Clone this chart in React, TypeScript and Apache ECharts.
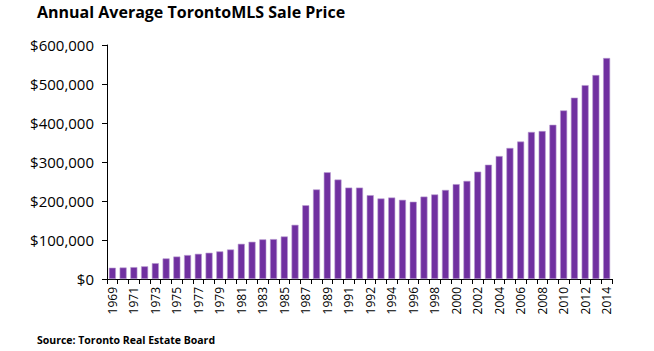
import React, { useEffect, useRef } from "react";
import * as echarts from "echarts";

const years: string[] = [
  "1969", "1970", "1971", "1972", "1973", "1974", "1975", "1976", "1977", "1978",
  "1979", "1980", "1981", "1982", "1983", "1984", "1985", "1986", "1987", "1988",
  "1989", "1990", "1991", "1991", "1992", "1993", "1994", "1995", "1996", "1997",
  "1998", "1999", "2000", "2001", "2002", "2003", "2004", "2005", "2006", "2007",
  "2008", "2009", "2010", "2011", "2012", "2013", "2014",
];

const avgPrice: number[] = [
  28929, 29492, 30426, 32513, 40605, 52806, 57581, 61389, 64559, 67333,
  70830, 75694, 90203, 95496, 101626, 102318, 109094, 138925, 189105, 229635,
  273698, 255020, 234313, 234313, 214971, 206490, 208921, 203028, 198150, 211307,
  216815, 228372, 243255, 251508, 275231, 293067, 315231, 335907, 352388, 377029,
  379347, 395460, 432264, 464989, 497073, 522951, 566611,
];

const yTicks = { min: 0, max: 600000, interval: 100000 };

const title = "Annual Average TorontoMLS Sale Price";
const source = "Source: Toronto Real Estate Board";

export default function App() {
  const ref = useRef<HTMLDivElement>(null);
  useEffect(() => {
    if (!ref.current) return;
    const chart = echarts.init(ref.current, null, { renderer: "svg" });
    const font = "'Open Sans', 'Liberation Sans', sans-serif";
    chart.setOption({
      animation: false,
      backgroundColor: "#ffffff",
      textStyle: { fontFamily: font },
      graphic: [
        {
          type: "text",
          left: 37,
          top: 4,
          style: {
            text: title,
            font: `bold 16px ${font}`,
            fill: "#000000",
          },
        },
        {
          type: "text",
          left: 37,
          top: 334,
          style: {
            text: source,
            font: `bold 10.5px ${font}`,
            fill: "#000000",
          },
        },
      ],
      grid: { left: 107, right: 42, top: 45, bottom: 72, containLabel: false },
      xAxis: {
        type: "category",
        data: years,
        boundaryGap: true,
        axisLine: { show: true, lineStyle: { color: "#000000", width: 1 } },
        axisTick: { show: true, alignWithLabel: false, interval: 0, length: 5, lineStyle: { color: "#000000" } },
        axisLabel: {
          interval: 1,
          rotate: 90,
          color: "#000000",
          fontSize: 12,
          fontFamily: font,
          margin: 8,
        },
      },
      yAxis: {
        type: "value",
        min: yTicks.min,
        max: yTicks.max,
        interval: yTicks.interval,
        splitLine: { show: false },
        axisLine: { show: true, lineStyle: { color: "#000000", width: 1 } },
        axisTick: { show: true, length: 5, lineStyle: { color: "#000000" } },
        axisLabel: {
          color: "#000000",
          fontSize: 15,
          fontFamily: font,
          margin: 13,
          formatter: (v: number) => "$" + v.toLocaleString("en-US"),
        },
      },
      series: [
        {
          type: "bar",
          data: avgPrice,
          barWidth: 7,
          itemStyle: { color: "#7030A0", borderColor: "#b79bd0", borderWidth: 0.6 },
        },
      ],
    });
    return () => chart.dispose();
  }, []);
  return (
    <div
      ref={ref}
      style={{ position: "absolute", left: 0, top: 0, width: 654, height: 351 }}
    />
  );
}
